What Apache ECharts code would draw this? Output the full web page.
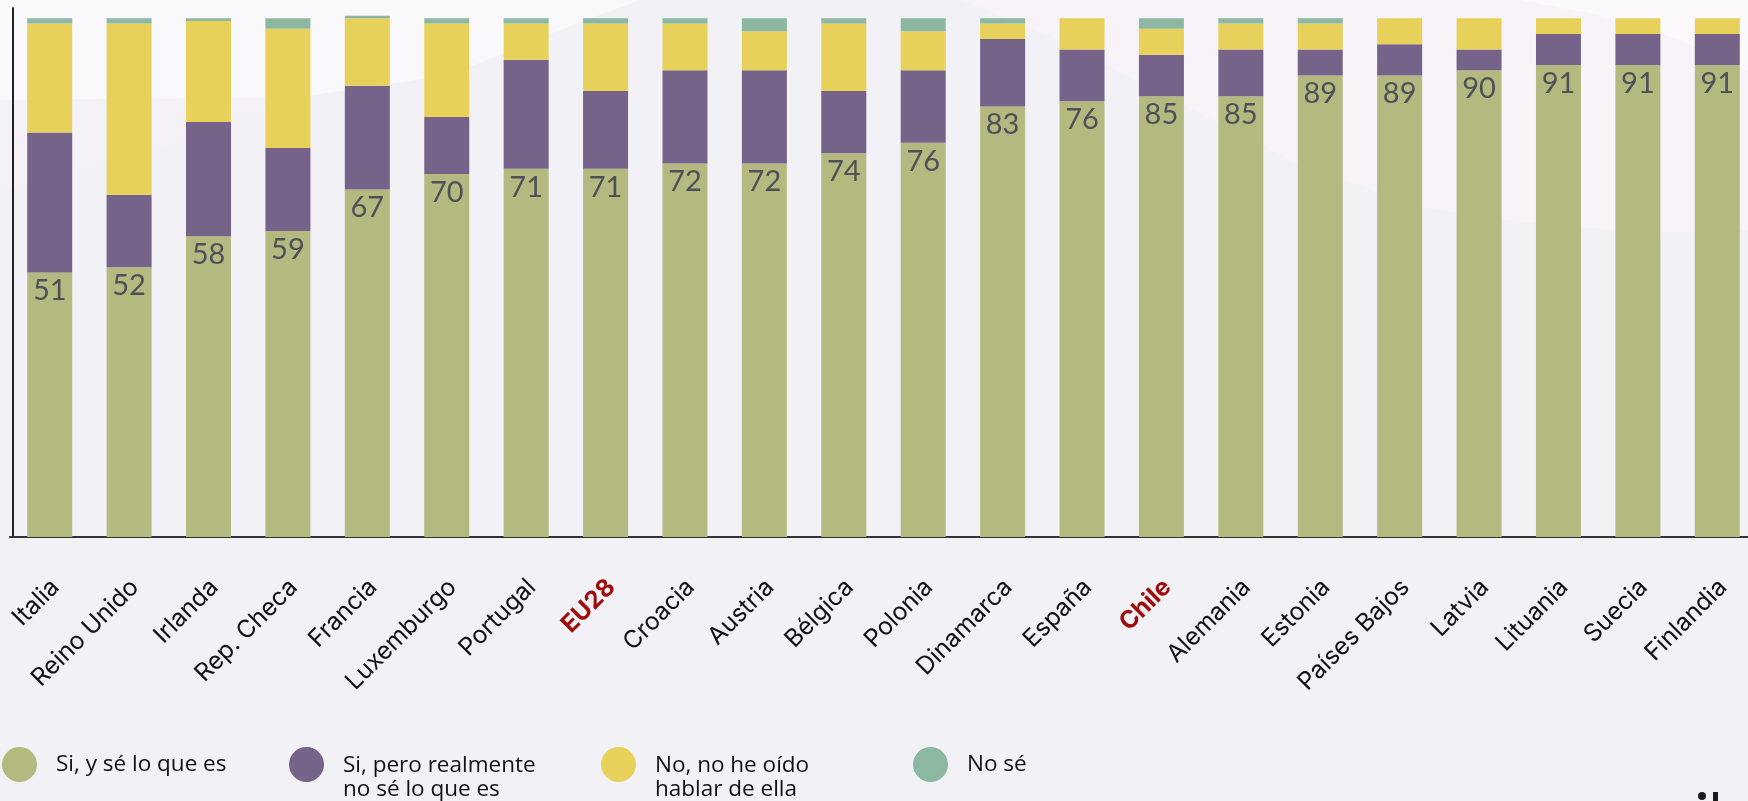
<!DOCTYPE html>
<html>
<head>
<meta charset="utf-8">
<script src="https://cdn.jsdelivr.net/npm/echarts@6/dist/echarts.min.js"></script>
<style>
html,body{margin:0;padding:0;background:#f1f1f6;overflow:hidden;width:1748px;height:801px;}
#c{width:1757px;height:801px;}
</style>
</head>
<body>
<div id="c"></div>
<script>
const paises = ['Italia','Reino Unido','Irlanda','Rep. Checa','Francia','Luxemburgo','Portugal','EU28','Croacia','Austria','Bélgica','Polonia','Dinamarca','España','Chile','Alemania','Estonia','Países Bajos','Latvia','Lituania','Suecia','Finlandia'];
const destacados = ['EU28','Chile'];
const siSe    = [51,52,58,59,67,70,71,71,72,72,74,76,83,84,85,85,89,89,90,91,91,91];
const etiquetas = ['51','52','58','59','67','70','71','71','72','72','74','76','83','76','85','85','89','89','90','91','91','91'];
const siNoSe  = [27,14,22,16,20,11,21,15,18,18,12,14,13,10,8,9,5,6,4,6,6,6];
const noOido  = [21,33,19.5,23,13,18,7,13,9,7.5,13,7.5,3,6,5,5,5,5,6,3,3,3];
const noSe    = [1,1,0.5,2,0.5,1,1,1,1,2.5,1,2.5,1,0,2,1,1,0,0,0,0,0];
const nombres = ['Si, y sé lo que es','Si, pero realmente no sé lo que es','No, no he oído hablar de ella','No sé'];
const textosLeyenda = ['Si, y sé lo que es','Si, pero realmente\nno sé lo que es','No, no he oído\nhablar de ella','No sé'];
const colores = ['#b3b97f','#766389','#e8d15b','#8cb8a1'];

const chart = echarts.init(document.getElementById('c'), null, {renderer:'canvas'});

// circle on top of a taller (invisible) box so that a two-line text starts level with the circle
const iconAlto = 'path://M0,17.5 A17.5,17.5 0 1,1 35,17.5 A17.5,17.5 0 1,1 0,17.5 Z M17.5,61.58 L17.52,61.58 L17.52,61.6 L17.5,61.6 Z';
const legendLefts = [2, 289, 601, 913];
const legends = nombres.map((n,i)=>{
  const twoLines = textosLeyenda[i].indexOf('\n')>=0;
  return {
    data:[n], left: legendLefts[i], top: 747,
    orient:'horizontal', padding:0, itemWidth:35, itemHeight: twoLines ? 61.6 : 35,
    icon: twoLines ? iconAlto : 'circle',
    selectedMode:false,
    formatter: ()=>textosLeyenda[i],
    textStyle:{fontFamily:'Open Sans', fontSize:22.5, color:'#111', lineHeight:23.5,
      padding:[0,0,0,14]}
  };
});

const mk = (i, data, extra) => Object.assign({
  name: nombres[i], type:'bar', stack:'total', data: data, barWidth:45,
  itemStyle:{color: colores[i]}, emphasis:{disabled:true}
}, extra||{});

chart.setOption({
  backgroundColor:'#f1f1f6',
  animation:false,
  graphic:[
    {type:'polygon', z:-10, silent:true, shape:{points:[[0,0],[640,0],[560,30],[450,75],[300,97],[150,99],[0,100]]}, style:{fill:'#f9f9fb'}},
    {type:'polygon', z:-10, silent:true, shape:{points:[[0,100],[150,99],[300,97],[200,135],[100,165],[0,190]]}, style:{fill:'#f5f2f7'}},
    {type:'polygon', z:-10, silent:true, shape:{points:[[960,0],[1757,0],[1757,230],[1650,233],[1520,222],[1422,207],[1300,165],[1160,93],[1060,40]]}, style:{fill:'#f7f3f9'}},
    {type:'polygon', z:-9, silent:true, shape:{points:[[1520,0],[1757,0],[1757,75],[1680,40],[1600,15]]}, style:{fill:'#fbf9fc'}},
    {type:'circle', silent:true, shape:{cx:1702, cy:796, r:4}, style:{fill:'#1a1a1a'}},
    {type:'rect', silent:true, shape:{x:1713, y:792, width:5, height:12}, style:{fill:'#1a1a1a'}}
  ],
  legend: legends,
  grid:{left:10, right:0, top:8, bottom:264, containLabel:false},
  xAxis:{
    type:'category', data: paises,
    axisLine:{show:true, lineStyle:{color:'#333', width:2}},
    axisTick:{show:false},
    axisLabel:{
      interval:0, rotate:45, margin:52, padding:[0,-8,0,0],
      fontFamily:'Inter', fontSize:24.5, color:'#111',
      formatter:(v)=> destacados.indexOf(v)>=0 ? '{r|'+v+'}' : v,
      rich:{r:{fontFamily:'Inter', fontSize:24.5, fontWeight:'bold', color:'#a00a0a'}}
    }
  },
  yAxis:{
    type:'value', min:0, max:102, offset:-3,
    axisLine:{show:true, lineStyle:{color:'#222', width:2}},
    axisTick:{show:false}, axisLabel:{show:false}, splitLine:{show:false}
  },
  series:[
    mk(0, siSe, {label:{show:true, position:'insideTop', distance:4,
      fontFamily:'Lato', fontSize:29, color:'#505058',
      formatter:(p)=>etiquetas[p.dataIndex]}}),
    mk(1, siNoSe),
    mk(2, noOido),
    mk(3, noSe)
  ]
});
</script>
</body>
</html>
